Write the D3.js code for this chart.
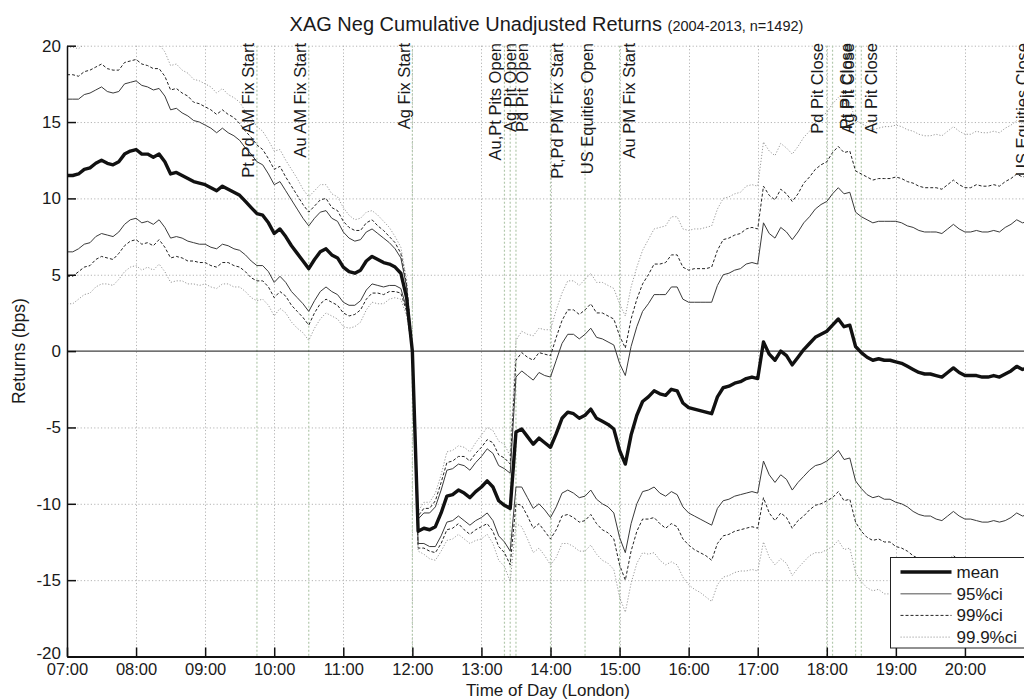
<!DOCTYPE html>
<html>
<head>
<meta charset="utf-8">
<script src="https://cdn.jsdelivr.net/npm/d3@7"></script>
<style>
  body { margin: 0; background: #fff; }
  svg text { font-family: "Liberation Sans", Arial, Helvetica, sans-serif; fill: #1a1a1a; }
</style>
</head>
<body>
<svg id="chart" width="1024" height="700"></svg>
<script>
// Sampling of the intraday series: one value every 5 minutes from 07:00 to 21:00 (London)
const sessionStart = "07:00";
const sampleStepMinutes = 5;

const hourLabels = ["07:00","08:00","09:00","10:00","11:00","12:00","13:00","14:00",
                    "15:00","16:00","17:00","18:00","19:00","20:00"];
const returnTicks = [-20, -15, -10, -5, 0, 5, 10, 15, 20];

// Mean cumulative return (bps), anchored at the 12:00 Ag fix
const meanReturns = [
  11.5,11.5,11.6,11.9,12.0,12.3,12.5,12.3,12.2,12.4,12.9,13.1,
  13.2,12.9,12.9,12.7,12.9,12.4,11.6,11.7,11.5,11.3,11.1,11.0,
  10.9,10.7,10.5,10.8,10.6,10.4,10.2,9.8,9.4,9.0,8.9,8.4,
  7.7,8.0,7.5,6.9,6.4,5.9,5.4,6.0,6.5,6.7,6.3,6.1,
  5.5,5.2,5.1,5.3,5.9,6.2,6.0,5.8,5.7,5.5,5.1,3.5,
  0.0,-11.8,-11.6,-11.7,-11.5,-10.6,-9.5,-9.4,-9.1,-9.3,-9.6,-9.2,
  -8.9,-8.5,-8.9,-9.8,-10.1,-10.3,-5.3,-5.1,-5.6,-6.1,-5.7,-6.0,
  -6.3,-5.4,-4.4,-4.0,-4.1,-4.4,-4.2,-3.8,-4.4,-4.6,-4.8,-5.1,
  -6.5,-7.4,-5.5,-4.2,-3.3,-3.0,-2.6,-2.8,-2.9,-2.5,-2.6,-3.4,
  -3.7,-3.8,-3.9,-4.0,-4.1,-3.0,-2.4,-2.3,-2.1,-2.0,-1.8,-1.7,
  -1.8,0.6,-0.2,-0.6,0.0,-0.3,-0.9,-0.4,0.1,0.5,0.9,1.1,
  1.3,1.7,2.1,1.6,1.7,0.3,-0.1,-0.4,-0.6,-0.5,-0.6,-0.6,
  -0.7,-0.8,-1.0,-1.2,-1.4,-1.5,-1.5,-1.6,-1.7,-1.4,-1.1,-1.4,
  -1.6,-1.6,-1.6,-1.7,-1.7,-1.6,-1.7,-1.5,-1.3,-1.0,-1.2,-1.1,
  -1.1
];

const upper95 = [
  16.5,16.5,16.5,16.8,16.9,17.1,17.3,17.0,16.9,17.0,17.5,17.6,
  17.7,17.4,17.3,17.1,17.2,16.7,15.8,15.9,15.6,15.4,15.1,15.0,
  14.8,14.6,14.3,14.6,14.3,14.1,13.8,13.3,12.9,12.4,12.2,11.6,
  10.9,11.1,10.5,9.9,9.3,8.7,8.2,8.7,9.1,9.2,8.7,8.5,
  7.8,7.4,7.2,7.3,7.8,8.0,7.7,7.4,7.1,6.7,6.1,4.2,
  0,-11.0,-10.6,-10.6,-10.2,-9.1,-7.8,-7.7,-7.4,-7.5,-7.8,-7.3,
  -6.9,-6.4,-6.7,-7.5,-7.7,-8.0,-1.7,-1.3,-1.6,-1.9,-1.4,-1.6,
  -1.7,-0.6,0.5,1.1,1.1,0.8,1.1,1.5,0.9,0.8,0.6,0.4,
  -0.8,-1.6,0.3,1.6,2.6,3.1,3.7,3.7,3.7,4.2,4.2,3.4,
  3.2,3.2,3.2,3.2,3.2,4.3,5.0,5.1,5.3,5.4,5.7,5.8,
  5.7,8.4,7.7,7.4,8.1,7.8,7.3,7.8,8.4,8.8,9.3,9.6,
  9.8,10.3,10.7,10.3,10.4,9.1,8.8,8.6,8.4,8.5,8.5,8.5,
  8.5,8.4,8.2,8.1,7.9,7.8,7.8,7.8,7.7,8.0,8.3,8.0,
  7.8,7.8,7.9,7.8,7.8,7.9,7.8,8.1,8.3,8.6,8.4,8.5,
  8.5
];

const lower95 = [
  6.5,6.5,6.7,7.0,7.1,7.5,7.7,7.6,7.5,7.8,8.3,8.6,
  8.7,8.4,8.5,8.3,8.6,8.1,7.4,7.5,7.4,7.2,7.1,7.0,
  7.0,6.8,6.7,7.0,6.9,6.7,6.6,6.3,5.9,5.6,5.6,5.2,
  4.5,4.9,4.5,3.9,3.5,3.1,2.6,3.3,3.9,4.2,3.9,3.7,
  3.2,3.0,3.0,3.3,4.0,4.4,4.3,4.2,4.3,4.3,4.1,2.8,
  0,-12.6,-12.6,-12.8,-12.8,-12.1,-11.2,-11.1,-10.8,-11.1,-11.4,-11.1,
  -10.9,-10.6,-11.1,-12.1,-12.5,-13.1,-8.9,-8.9,-9.6,-10.3,-10.0,-10.4,
  -10.9,-10.2,-9.3,-9.1,-9.3,-9.6,-9.5,-9.1,-9.7,-10.0,-10.2,-10.6,
  -12.2,-13.2,-11.3,-10.0,-9.2,-9.1,-8.9,-9.3,-9.5,-9.2,-9.4,-10.2,
  -10.6,-10.8,-11.0,-11.2,-11.4,-10.3,-9.8,-9.7,-9.5,-9.4,-9.3,-9.2,
  -9.3,-7.2,-8.1,-8.6,-8.1,-8.4,-9.1,-8.6,-8.2,-7.8,-7.5,-7.4,
  -7.2,-6.9,-6.5,-7.1,-7.0,-8.5,-9.0,-9.4,-9.6,-9.5,-9.7,-9.7,
  -9.9,-10.0,-10.2,-10.5,-10.7,-10.8,-10.8,-11.0,-11.1,-10.8,-10.5,-10.8,
  -11.0,-11.0,-11.1,-11.2,-11.2,-11.1,-11.2,-11.1,-10.9,-10.6,-10.8,-10.7,
  -10.7
];

const upper99 = [
  18.1,18.1,18.0,18.3,18.4,18.6,18.8,18.5,18.4,18.4,18.9,19.0,
  19.1,18.8,18.7,18.5,18.5,18.0,17.1,17.2,16.9,16.7,16.3,16.2,
  16.0,15.8,15.5,15.8,15.5,15.3,14.9,14.4,14.0,13.5,13.2,12.6,
  11.9,12.1,11.4,10.8,10.2,9.6,9.1,9.5,9.9,10.0,9.4,9.2,
  8.5,8.1,7.9,7.9,8.4,8.6,8.2,7.9,7.5,7.1,6.4,4.4,
  0,-10.8,-10.3,-10.3,-9.8,-8.6,-7.3,-7.2,-6.9,-6.9,-7.2,-6.7,
  -6.3,-5.8,-6.0,-6.8,-7.0,-7.4,-0.6,-0.1,-0.4,-0.6,-0.1,-0.2,
  -0.3,0.9,2.0,2.7,2.7,2.4,2.7,3.1,2.5,2.5,2.3,2.1,
  1.0,0.2,2.1,3.4,4.4,5.0,5.7,5.7,5.8,6.3,6.3,5.5,
  5.3,5.4,5.4,5.4,5.5,6.6,7.3,7.4,7.6,7.7,8.0,8.1,
  8.0,10.8,10.2,9.9,10.6,10.3,9.8,10.3,11.0,11.4,11.9,12.2,
  12.4,13.0,13.4,13.0,13.1,11.8,11.6,11.4,11.2,11.3,11.3,11.3,
  11.4,11.3,11.1,11.0,10.8,10.7,10.7,10.7,10.6,10.9,11.2,10.9,
  10.7,10.7,10.9,10.8,10.8,10.9,10.8,11.1,11.3,11.6,11.4,11.5,
  11.5
];

const lower99 = [
  4.9,4.9,5.2,5.5,5.6,6.0,6.2,6.1,6.0,6.4,6.9,7.2,
  7.3,7.0,7.1,6.9,7.3,6.8,6.1,6.2,6.1,5.9,5.9,5.8,
  5.8,5.6,5.5,5.8,5.8,5.6,5.5,5.2,4.8,4.6,4.6,4.2,
  3.5,3.9,3.6,3.0,2.6,2.2,1.7,2.5,3.1,3.4,3.2,3.0,
  2.5,2.3,2.4,2.7,3.4,3.8,3.8,3.7,3.9,3.9,3.8,2.6,
  0,-12.9,-12.9,-13.1,-13.2,-12.6,-11.7,-11.6,-11.3,-11.7,-12.0,-11.7,
  -11.5,-11.3,-11.8,-12.8,-13.2,-14.0,-10.0,-10.1,-10.8,-11.6,-11.3,-11.8,
  -12.3,-11.7,-10.8,-10.7,-10.9,-11.2,-11.1,-10.7,-11.3,-11.7,-11.9,-12.3,
  -14.0,-15.0,-13.1,-11.8,-11.0,-11.0,-10.9,-11.3,-11.6,-11.3,-11.5,-12.3,
  -12.7,-13.0,-13.2,-13.4,-13.7,-12.6,-12.1,-12.0,-11.8,-11.7,-11.6,-11.5,
  -11.6,-9.6,-10.6,-11.1,-10.6,-10.9,-11.6,-11.1,-10.8,-10.4,-10.1,-10.0,
  -9.8,-9.6,-9.2,-9.8,-9.7,-11.2,-11.8,-12.2,-12.4,-12.3,-12.5,-12.5,
  -12.8,-12.9,-13.1,-13.4,-13.6,-13.7,-13.7,-13.9,-14.0,-13.7,-13.4,-13.7,
  -13.9,-13.9,-14.1,-14.2,-14.2,-14.1,-14.2,-14.1,-13.9,-13.6,-13.8,-13.7,
  -13.7
];

const upper999 = [
  19.9,19.9,19.8,20.1,20.2,20.4,20.6,20.2,20.1,20.1,20.6,20.7,
  20.8,20.5,20.3,20.1,20.1,19.6,18.7,18.8,18.4,18.2,17.8,17.7,
  17.5,17.3,16.9,17.2,16.8,16.6,16.3,15.7,15.3,14.7,14.4,13.8,
  13.1,13.2,12.5,11.9,11.3,10.6,10.1,10.5,10.9,10.9,10.3,10.1,
  9.4,8.9,8.6,8.7,9.1,9.2,8.9,8.5,8.1,7.5,6.8,4.7,
  0,-10.5,-9.9,-9.9,-9.3,-8.1,-6.6,-6.5,-6.2,-6.3,-6.6,-6.0,
  -5.5,-5.0,-5.2,-5.9,-6.1,-6.9,0.7,1.3,1.1,1.0,1.5,1.4,
  1.4,2.7,3.8,4.6,4.6,4.3,4.7,5.1,4.5,4.5,4.3,4.1,
  3.1,2.3,4.2,5.5,6.6,7.3,8.0,8.1,8.2,8.8,8.8,8.0,
  7.9,8.0,8.0,8.1,8.2,9.3,10.0,10.1,10.3,10.4,10.8,10.9,
  10.8,13.7,13.1,12.8,13.6,13.3,12.9,13.4,14.0,14.4,15.0,15.4,
  15.6,16.2,16.6,16.2,16.3,15.1,14.9,14.7,14.5,14.6,14.7,14.7,
  14.8,14.7,14.5,14.4,14.2,14.1,14.1,14.2,14.1,14.4,14.7,14.4,
  14.2,14.2,14.4,14.3,14.3,14.4,14.3,14.6,14.8,15.1,14.9,15.0,
  15.0
];

const lower999 = [
  3.1,3.1,3.4,3.7,3.8,4.2,4.4,4.4,4.3,4.7,5.2,5.5,
  5.6,5.3,5.5,5.3,5.7,5.2,4.5,4.6,4.6,4.4,4.4,4.3,
  4.4,4.2,4.1,4.4,4.4,4.2,4.2,3.9,3.5,3.3,3.4,3.0,
  2.3,2.8,2.5,1.9,1.5,1.2,0.7,1.5,2.1,2.5,2.3,2.1,
  1.6,1.5,1.6,1.9,2.7,3.2,3.1,3.1,3.4,3.5,3.4,2.3,
  0,-13.1,-13.3,-13.6,-13.7,-13.1,-12.4,-12.3,-12.0,-12.3,-12.6,-12.4,
  -12.3,-12.0,-12.6,-13.7,-14.1,-15.1,-11.3,-11.5,-12.3,-13.2,-12.9,-13.4,
  -14.0,-13.5,-12.6,-12.6,-12.8,-13.1,-13.1,-12.7,-13.3,-13.7,-13.9,-14.3,
  -16.1,-17.1,-15.2,-13.9,-13.2,-13.3,-13.2,-13.7,-14.0,-13.8,-14.0,-14.8,
  -15.3,-15.6,-15.8,-16.1,-16.4,-15.3,-14.8,-14.7,-14.5,-14.4,-14.4,-14.3,
  -14.4,-12.5,-13.5,-14.0,-13.6,-13.9,-14.7,-14.2,-13.8,-13.4,-13.2,-13.2,
  -13.0,-12.8,-12.4,-13.0,-12.9,-14.5,-15.1,-15.5,-15.7,-15.6,-15.9,-15.9,
  -16.2,-16.3,-16.5,-16.8,-17.0,-17.1,-17.1,-17.4,-17.5,-17.2,-16.9,-17.2,
  -17.4,-17.4,-17.6,-17.7,-17.7,-17.6,-17.7,-17.6,-17.4,-17.1,-17.3,-17.2,
  -17.2
];

// Market events marked on the time axis
const eventTimes = ["09:45","10:30","12:00","13:20","13:25","13:30","14:00","14:30",
                    "15:00","18:00","18:05","18:25","18:30","21:00"];
const eventNames = ["Pt,Pd AM Fix Start","Au AM Fix Start","Ag Fix Start","Au,Pt Pits Open",
                    "Ag Pit Open","Pd Pit Open","Pt,Pd PM Fix Start","US Equities Open",
                    "Au PM Fix Start","Pd Pit Close","Pt Pit Close","Ag Pit Close",
                    "Au Pit Close","US Equities Close"];

const legendNames = ["mean", "95%ci", "99%ci", "99.9%ci"];

// ---------------------------------------------------------------------------
const toMinutes = s => { const [h, m] = s.split(":").map(Number); return h * 60 + m; };
const t0 = toMinutes(sessionStart);
const sinceStart = s => toMinutes(s) - t0;

const svg = d3.select("#chart");
svg.append("rect").attr("width", 1024).attr("height", 700).attr("fill", "#fff");

const plot = { left: 67, right: 1034, top: 45.7, bottom: 656.5 };
const x = d3.scaleLinear().domain([0, sinceStart("21:00")]).range([plot.left, plot.right]);
const y = d3.scaleLinear().domain([-20, 20]).range([plot.bottom, plot.top]);

svg.append("clipPath").attr("id", "plot-clip")
  .append("rect")
  .attr("x", plot.left).attr("y", plot.top)
  .attr("width", plot.right - plot.left).attr("height", plot.bottom - plot.top);

// grid
const grid = svg.append("g").attr("stroke", "#b4b4b4").attr("stroke-width", 1)
  .attr("stroke-dasharray", "1.2,2.2").attr("fill", "none");
grid.selectAll("line.h").data(returnTicks.filter(v => v !== 0 && v !== -20)).join("line")
  .attr("x1", plot.left).attr("x2", plot.right)
  .attr("y1", d => y(d) + 0.5).attr("y2", d => y(d) + 0.5);
grid.selectAll("line.v").data(hourLabels.slice(1)).join("line")
  .attr("x1", d => Math.round(x(sinceStart(d))) + 0.5).attr("x2", d => Math.round(x(sinceStart(d))) + 0.5)
  .attr("y1", plot.top).attr("y2", plot.bottom);

// event markers
svg.append("g").attr("stroke", "#b3c9ad").attr("stroke-width", 1.2)
  .attr("stroke-dasharray", "2,2")
  .selectAll("line").data(eventTimes).join("line")
  .attr("x1", d => x(sinceStart(d))).attr("x2", d => x(sinceStart(d)))
  .attr("y1", plot.top).attr("y2", plot.bottom);

// zero line
svg.append("line")
  .attr("x1", plot.left).attr("x2", plot.right)
  .attr("y1", y(0)).attr("y2", y(0))
  .attr("stroke", "#111").attr("stroke-width", 1);

// curves
const line = d3.line()
  .x((d, i) => x(i * sampleStepMinutes))
  .y(d => y(d));

const styles = [
  { key: "99.9%ci", series: [upper999, lower999], stroke: "#9a9a9a", width: 1, dash: "1.2,1.8" },
  { key: "99%ci",   series: [upper99, lower99],   stroke: "#222",    width: 1, dash: "3,2" },
  { key: "95%ci",   series: [upper95, lower95],   stroke: "#3a3a3a", width: 1, dash: null },
  { key: "mean",    series: [meanReturns],        stroke: "#111",    width: 3.4, dash: null }
];

const curves = svg.append("g").attr("clip-path", "url(#plot-clip)").attr("fill", "none");
styles.forEach(st => {
  st.series.forEach(s => {
    curves.append("path")
      .attr("d", line(s))
      .attr("stroke", st.stroke)
      .attr("stroke-width", st.width)
      .attr("stroke-linejoin", "round")
      .attr("stroke-dasharray", st.dash);
  });
});

// axes
const xAxis = d3.axisBottom(x)
  .tickValues(hourLabels.map(sinceStart))
  .tickFormat((d, i) => hourLabels[i])
  .tickSizeInner(-9).tickSizeOuter(0).tickPadding(7);
const gx = svg.append("g").attr("transform", `translate(0,${plot.bottom})`).call(xAxis);
gx.attr("font-family", null).attr("font-size", null);
gx.select(".domain").attr("stroke", "#111").attr("stroke-width", 2);
gx.selectAll(".tick line").attr("stroke", "#111").attr("stroke-width", 1.5);
gx.selectAll(".tick text").attr("font-size", 16.5).attr("fill", "#1a1a1a");

const yAxis = d3.axisLeft(y).tickValues(returnTicks).tickFormat(d => String(d))
  .tickSizeInner(-9).tickSizeOuter(0).tickPadding(6);
const gy = svg.append("g").attr("transform", `translate(${plot.left},0)`).call(yAxis);
gy.attr("font-family", null).attr("font-size", null);
gy.select(".domain").attr("stroke", "#111").attr("stroke-width", 1.5);
gy.selectAll(".tick line").attr("stroke", "#111").attr("stroke-width", 1.5);
gy.selectAll(".tick text").attr("font-size", 17).attr("fill", "#1a1a1a");
// the bottom value label sits slightly higher so it clears the first time label
gy.selectAll(".tick text").filter(d => d === -20).attr("dy", "0.1em");

// event labels (rotated, hanging from the top of the axes)
const labelShift = [-9, -9, -8, -9, 0, 6, 7, 2, 9, -10, 14, -8, 10, -12];
svg.append("g").selectAll("text").data(eventNames).join("text")
  .attr("transform", (d, i) => `translate(${x(sinceStart(eventTimes[i])) + labelShift[i]},43) rotate(-90)`)
  .attr("text-anchor", "end")
  .attr("dy", "0.36em")
  .attr("font-size", 16.5)
  .text(d => d);

// titles
const title = svg.append("text").attr("x", (plot.left + plot.right) / 2 - 4).attr("y", 31)
  .attr("text-anchor", "middle");
title.append("tspan").attr("font-size", 20).text("XAG Neg Cumulative Unadjusted Returns ");
title.append("tspan").attr("font-size", 14.5).text("(2004-2013, n=1492)");

svg.append("text")
  .attr("transform", `translate(24.5,${y(0)}) rotate(-90)`)
  .attr("text-anchor", "middle").attr("font-size", 17.5)
  .text("Returns (bps)");

svg.append("text").attr("x", 548).attr("y", 696)
  .attr("text-anchor", "middle").attr("font-size", 17)
  .text("Time of Day (London)");

// legend
const lg = svg.append("g").attr("transform", "translate(890.5,557.5)");
lg.append("rect").attr("width", 160).attr("height", 90.5)
  .attr("fill", "#fff").attr("stroke", "#222").attr("stroke-width", 1);
const legendStyles = [
  { stroke: "#111", width: 3.4, dash: null },
  { stroke: "#8a8a8a", width: 1.6, dash: null },
  { stroke: "#222", width: 1, dash: "3,2" },
  { stroke: "#9a9a9a", width: 1, dash: "1.2,1.8" }
];
const rows = lg.selectAll("g.row").data(legendNames).join("g")
  .attr("transform", (d, i) => `translate(0,${14.5 + i * 21.7})`);
rows.append("line").attr("x1", 10).attr("x2", 61)
  .attr("stroke", (d, i) => legendStyles[i].stroke)
  .attr("stroke-width", (d, i) => legendStyles[i].width)
  .attr("stroke-dasharray", (d, i) => legendStyles[i].dash);
rows.append("text").attr("x", 66).attr("dy", "0.35em").attr("font-size", 17).text(d => d);
</script>
</body>
</html>
